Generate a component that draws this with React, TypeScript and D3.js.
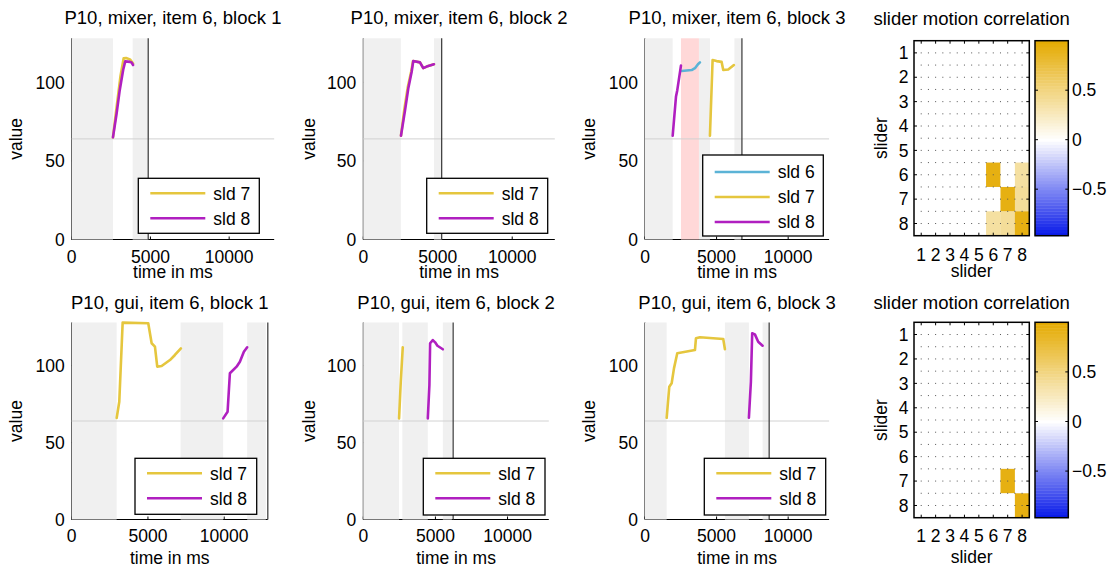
import React from 'react';
import * as d3 from 'd3';

// ---------------- DATA ----------------
const TIME_MAX = 12860;
const VALUE_MAX = 128;
const NEUTRAL_VALUE = 64;
const TIME_TICKS = [0, 5000, 10000];
const VALUE_TICKS = [0, 50, 100];
const SLIDER_IDS = [1, 2, 3, 4, 5, 6, 7, 8];
const CBAR_TICKS = [0.5, 0, -0.5];
const CBAR_MIN = -0.97;
const CBAR_MAX = 1.0;

const PANEL_TITLES = [
  'P10, mixer, item 6, block 1',
  'P10, mixer, item 6, block 2',
  'P10, mixer, item 6, block 3',
  'P10, gui, item 6, block 1',
  'P10, gui, item 6, block 2',
  'P10, gui, item 6, block 3',
];
const CORR_TITLE = 'slider motion correlation';

// series: [time in ms, value]
const MIX1_SLD7: [number, number][] = [[2620, 65], [2850, 84], [3100, 104], [3300, 115.3], [3450, 115.5], [3700, 114.6], [3900, 112]];
const MIX1_SLD8: [number, number][] = [[2620, 65], [2850, 80], [3050, 95], [3270, 108], [3400, 113.3], [3700, 113], [3800, 112.6], [3900, 111]];
const MIX2_SLD7: [number, number][] = [[2530, 66], [2760, 83], [2990, 97], [3220, 107], [3340, 113.5], [3805, 112.7], [4027, 109], [4255, 110], [4745, 111.5]];
const MIX2_SLD8: [number, number][] = [[2530, 66], [2800, 82], [3020, 96], [3248, 106.7], [3356, 113.5], [3805, 112.7], [4027, 109], [4255, 110], [4745, 111.5]];
const MIX3_SLD6: [number, number][] = [[2560, 107.2], [3260, 107.8], [3490, 109], [3700, 111.5], [3838, 112.7]];
const MIX3_SLD7: [number, number][] = [[4536, 66], [4722, 114.2], [5000, 113.5], [5350, 113], [5466, 107.8], [5815, 108.2], [6211, 111]];
const MIX3_SLD8: [number, number][] = [[1933, 66], [2163, 90.8], [2255, 95], [2512, 110.6]];
const GUI1_SLD7: [number, number][] = [[2949, 66], [3120, 76.5], [3342, 127.9], [5020, 127.5], [5243, 114.5], [5459, 112.3], [5610, 99.3], [5898, 99.7], [6442, 103.6], [6769, 106.9], [7162, 111.2]];
const GUI1_SLD8: [number, number][] = [[9935, 65.7], [10223, 70], [10374, 95], [10813, 99.3], [11029, 102.5], [11291, 109], [11508, 111.9]];
const GUI2_SLD7: [number, number][] = [[2479, 65.7], [2597, 89.5], [2736, 111.9]];
const GUI2_SLD8: [number, number][] = [[4472, 65.7], [4583, 87.4], [4632, 114.5], [4819, 116.6], [4979, 115.1], [5139, 112.9], [5514, 110.6]];
const GUI3_SLD7: [number, number][] = [[1514, 66.1], [1696, 86.3], [1863, 88.5], [2024, 98.2], [2254, 108], [3489, 110.1], [3559, 117.7], [3838, 118.4], [5466, 117.3], [5583, 110.6]];
const GUI3_SLD8: [number, number][] = [[7258, 66.1], [7397, 89.5], [7488, 121], [7676, 120.3], [7907, 115.5], [8213, 112.9]];

// idle (grey) intervals, overlap (pink) intervals, end markers, in ms
const MIX1_IDLE = [[0, 2620], [3870, 4860]];
const MIX2_IDLE = [[0, 2520], [4745, 5262]];
const MIX3_IDLE = [[0, 1933], [3768, 4536], [6245, 6700]];
const GUI1_IDLE = [[0, 2949], [7143, 9934], [11508, 12730]];
const GUI2_IDLE = [[0, 2479], [2708, 4472], [5514, 6139]];
const GUI3_IDLE = [[0, 1514], [5583, 7258], [8213, 8653]];
const MIX3_OVERLAP = [[2512, 3768]];
const BLOCK_ENDS = [4860, 5262, 6770, 12860, 6229, 8674];

// correlation matrices (row = slider, col = slider)
const CORR_MIXER = [
  [0, 0, 0, 0, 0, 0, 0, 0],
  [0, 0, 0, 0, 0, 0, 0, 0],
  [0, 0, 0, 0, 0, 0, 0, 0],
  [0, 0, 0, 0, 0, 0, 0, 0],
  [0, 0, 0, 0, 0, 0, 0, 0],
  [0, 0, 0, 0, 0, 0.93, 0, 0.37],
  [0, 0, 0, 0, 0, 0, 0.93, 0.4],
  [0, 0, 0, 0, 0, 0.37, 0.4, 0.93],
];
const CORR_GUI = [
  [0, 0, 0, 0, 0, 0, 0, 0],
  [0, 0, 0, 0, 0, 0, 0, 0],
  [0, 0, 0, 0, 0, 0, 0, 0],
  [0, 0, 0, 0, 0, 0, 0, 0],
  [0, 0, 0, 0, 0, 0, 0, 0],
  [0, 0, 0, 0, 0, 0, 0, 0],
  [0, 0, 0, 0, 0, 0, 0.93, 0],
  [0, 0, 0, 0, 0, 0, 0, 0.93],
];

// ---------------- STYLE / LAYOUT ----------------
const FONT = '"Liberation Sans", Arial, Helvetica, sans-serif';
const COLORS: Record<number, string> = { 6: '#5bb3d6', 7: '#e5c63e', 8: '#b01fc0' };
const IDLE_FILL = '#f0f0f0';
const OVERLAP_FILL = '#ffd8d8';

type Series = { id: number; pts: [number, number][] };
const PANEL_SERIES: Series[][] = [
  [{ id: 7, pts: MIX1_SLD7 }, { id: 8, pts: MIX1_SLD8 }],
  [{ id: 7, pts: MIX2_SLD7 }, { id: 8, pts: MIX2_SLD8 }],
  [{ id: 6, pts: MIX3_SLD6 }, { id: 7, pts: MIX3_SLD7 }, { id: 8, pts: MIX3_SLD8 }],
  [{ id: 7, pts: GUI1_SLD7 }, { id: 8, pts: GUI1_SLD8 }],
  [{ id: 7, pts: GUI2_SLD7 }, { id: 8, pts: GUI2_SLD8 }],
  [{ id: 7, pts: GUI3_SLD7 }, { id: 8, pts: GUI3_SLD8 }],
];
const PANEL_IDLE = [MIX1_IDLE, MIX2_IDLE, MIX3_IDLE, GUI1_IDLE, GUI2_IDLE, GUI3_IDLE];
const PANEL_OVERLAP = [[], [], MIX3_OVERLAP, [], [], []];

const PANEL_BOX = [
  { x0: 71.7, x1: 274.2, y0: 38.3, y1: 239.5 },
  { x0: 363.3, x1: 554.8, y0: 38.3, y1: 239.5 },
  { x0: 645, x1: 829.1, y0: 38.3, y1: 239.5 },
  { x0: 71.7, x1: 267.8, y0: 322.5, y1: 519.5 },
  { x0: 363.3, x1: 548.8, y0: 322.5, y1: 519.5 },
  { x0: 645, x1: 829.1, y0: 322.5, y1: 519.5 },
];
const LEGEND_BOX = [
  { x: 138.3, y: 178.3, w: 121, h: 55, first: 15 },
  { x: 426.7, y: 178.3, w: 121, h: 55, first: 15 },
  { x: 702.7, y: 155, w: 120.6, h: 81, first: 17 },
  { x: 135, y: 458.3, w: 121.7, h: 56, first: 15 },
  { x: 423.3, y: 458.3, w: 121.7, h: 56.7, first: 15 },
  { x: 704.3, y: 458.3, w: 121.4, h: 56.7, first: 15 },
];
const ROW_TEXT = [
  { title: 24, tick: 262.5, xlabel: 278 },
  { title: 309, tick: 542, xlabel: 564 },
];
const YLABEL_X = [21.7, 315, 595];

const HEAT_BOX = [
  { x0: 914, x1: 1029.3, y0: 40.7, y1: 235.7, title: 24.5, tick: 260.5, xlabel: 276.5 },
  { x0: 914, x1: 1029.3, y0: 322.3, y1: 517.7, title: 309, tick: 542, xlabel: 563 },
];
const CBAR_X0 = 1035;
const CBAR_X1 = 1068.3;

const GOLD = d3.rgb(228, 170, 0);
const BLUE = d3.rgb(0, 18, 232);
function corrColor(v: number): string {
  if (v >= 0) return d3.interpolateRgb('#ffffff', GOLD.toString())(Math.min(1, v));
  return d3.interpolateRgb('#ffffff', BLUE.toString())(Math.min(1, -v));
}

function TimePanel({ idx }: { idx: number }) {
  const b = PANEL_BOX[idx];
  const row = idx < 3 ? 0 : 1;
  const col = idx % 3;
  const rt = ROW_TEXT[row];
  const x = d3.scaleLinear().domain([0, TIME_MAX]).range([b.x0, b.x1]);
  const y = d3.scaleLinear().domain([0, VALUE_MAX]).range([b.y1, b.y0]);
  const line = d3.line<[number, number]>().x((d) => x(d[0])).y((d) => y(d[1]));
  const lg = LEGEND_BOX[idx];
  const series = PANEL_SERIES[idx];
  const cx = (b.x0 + b.x1) / 2;
  const cy = (b.y0 + b.y1) / 2;
  return (
    <g>
      {/* axes under patches */}
      <line x1={b.x0} x2={b.x1} y1={b.y1} y2={b.y1} stroke="#000" strokeWidth={1} />
      <line x1={b.x0} x2={b.x0} y1={b.y0} y2={b.y1} stroke="#000" strokeWidth={1} />
      {TIME_TICKS.map((t) => (
        <line key={'xt' + t} x1={x(t)} x2={x(t)} y1={b.y1} y2={b.y1 - 3} stroke="#000" strokeWidth={1} />
      ))}
      {VALUE_TICKS.map((v) => (
        <line key={'yt' + v} x1={b.x0} x2={b.x0 + 3} y1={y(v)} y2={y(v)} stroke="#000" strokeWidth={1} />
      ))}
      {PANEL_IDLE[idx].map((iv, i) => (
        <rect key={'idle' + i} x={x(iv[0])} y={b.y0} width={x(iv[1]) - x(iv[0])} height={b.y1 - b.y0} fill={IDLE_FILL} />
      ))}
      {PANEL_OVERLAP[idx].map((iv: number[], i: number) => (
        <rect key={'ov' + i} x={x(iv[0])} y={b.y0} width={x(iv[1]) - x(iv[0])} height={b.y1 - b.y0} fill={OVERLAP_FILL} />
      ))}
      <line x1={b.x0} x2={b.x1} y1={y(NEUTRAL_VALUE)} y2={y(NEUTRAL_VALUE)} stroke="#d2d2d2" strokeWidth={1} />
      {series.map((s) => (
        <path key={'s' + s.id} d={line(s.pts) || ''} fill="none" stroke={COLORS[s.id]} strokeWidth={2.6} strokeLinejoin="round" strokeLinecap="round" />
      ))}
      <line x1={x(BLOCK_ENDS[idx])} x2={x(BLOCK_ENDS[idx])} y1={b.y0} y2={b.y1} stroke="#444" strokeWidth={1.3} />
      {/* tick labels */}
      {TIME_TICKS.map((t) => (
        <text key={'xl' + t} x={x(t)} y={rt.tick} textAnchor="middle" fontSize={17.5}>{t}</text>
      ))}
      {VALUE_TICKS.map((v) => (
        <text key={'yl' + v} x={b.x0 - 7} y={y(v) + 6.2} textAnchor="end" fontSize={17.5}>{v}</text>
      ))}
      <text x={cx} y={rt.title} textAnchor="middle" fontSize={18.5}>{PANEL_TITLES[idx]}</text>
      <text x={cx} y={rt.xlabel} textAnchor="middle" fontSize={17.5}>time in ms</text>
      <text transform={`translate(${YLABEL_X[col]},${cy}) rotate(-90)`} textAnchor="middle" fontSize={17.5}>value</text>
      {/* legend */}
      <rect x={lg.x} y={lg.y} width={lg.w} height={lg.h} fill="#fff" stroke="#000" strokeWidth={1.3} />
      {series.map((s, i) => {
        const ly = lg.y + lg.first + i * 25;
        return (
          <g key={'lg' + s.id}>
            <line x1={lg.x + 12} x2={lg.x + 67} y1={ly} y2={ly} stroke={COLORS[s.id]} strokeWidth={2.6} />
            <text x={lg.x + 75} y={ly + 6.3} fontSize={17.5}>{'sld ' + s.id}</text>
          </g>
        );
      })}
    </g>
  );
}

function CorrPanel({ idx }: { idx: number }) {
  const hb = HEAT_BOX[idx];
  const matrix = idx === 0 ? CORR_MIXER : CORR_GUI;
  const xb = d3.scaleBand<number>().domain(SLIDER_IDS).range([hb.x0, hb.x1]);
  const yb = d3.scaleBand<number>().domain(SLIDER_IDS).range([hb.y0, hb.y1]);
  const cs = d3.scaleLinear().domain([CBAR_MIN, CBAR_MAX]).range([hb.y1, hb.y0]);
  const bands = d3.range(64).map((i) => CBAR_MIN + ((i + 0.5) / 64) * (CBAR_MAX - CBAR_MIN));
  const bandH = (hb.y1 - hb.y0) / 64;
  const cw = xb.bandwidth();
  const ch = yb.bandwidth();
  const dotRowsY = d3.range(17).map((i) => hb.y0 + (i * ch) / 2).filter((v) => v > hb.y0 + 1 && v < hb.y1 - 1);
  const dotColsX = d3.range(17).map((i) => hb.x0 + (i * cw) / 2).filter((v) => v > hb.x0 + 1 && v < hb.x1 - 1);
  return (
    <g>
      {SLIDER_IDS.map((r, ri) =>
        SLIDER_IDS.map((c, ci) => (
          <rect key={`c${r}-${c}`} x={xb(c)} y={yb(r)} width={cw + 0.3} height={ch + 0.3} fill={corrColor(matrix[ri][ci])} />
        ))
      )}
      {dotRowsY.map((yy) =>
        dotColsX.map((xx) => <rect key={`d${yy}-${xx}`} x={xx - 0.5} y={yy - 0.5} width={1} height={1} fill="#555" />)
      )}
      {SLIDER_IDS.map((s) => (
        <g key={'tk' + s}>
          <line x1={hb.x0} x2={hb.x0 + 3} y1={(yb(s) as number) + ch / 2} y2={(yb(s) as number) + ch / 2} stroke="#000" />
          <line x1={hb.x1} x2={hb.x1 - 3} y1={(yb(s) as number) + ch / 2} y2={(yb(s) as number) + ch / 2} stroke="#000" />
          <line x1={(xb(s) as number) + cw / 2} x2={(xb(s) as number) + cw / 2} y1={hb.y1} y2={hb.y1 - 3} stroke="#000" />
          <line x1={(xb(s) as number) + cw / 2} x2={(xb(s) as number) + cw / 2} y1={hb.y0} y2={hb.y0 + 3} stroke="#000" />
          <text x={hb.x0 - 5.5} y={(yb(s) as number) + ch / 2 + 6.2} textAnchor="end" fontSize={17.5}>{s}</text>
          <text x={(xb(s) as number) + cw / 2} y={hb.tick} textAnchor="middle" fontSize={17.5}>{s}</text>
        </g>
      ))}
      <rect x={hb.x0} y={hb.y0} width={hb.x1 - hb.x0} height={hb.y1 - hb.y0} fill="none" stroke="#000" strokeWidth={1.5} />
      <text x={(hb.x0 + hb.x1) / 2} y={hb.title} textAnchor="middle" fontSize={18.5}>{CORR_TITLE}</text>
      <text x={(hb.x0 + hb.x1) / 2} y={hb.xlabel} textAnchor="middle" fontSize={17.5}>slider</text>
      <text transform={`translate(887,${(hb.y0 + hb.y1) / 2}) rotate(-90)`} textAnchor="middle" fontSize={17.5}>slider</text>
      {/* colorbar */}
      {bands.map((v, i) => (
        <rect key={'cb' + i} x={CBAR_X0} y={hb.y1 - (i + 1) * bandH} width={CBAR_X1 - CBAR_X0} height={bandH + 0.4} fill={corrColor(v)} />
      ))}
      <rect x={CBAR_X0} y={hb.y0} width={CBAR_X1 - CBAR_X0} height={hb.y1 - hb.y0} fill="none" stroke="#000" strokeWidth={1.5} />
      {CBAR_TICKS.map((t) => (
        <g key={'ct' + t}>
          <line x1={CBAR_X1} x2={CBAR_X1 - 3} y1={cs(t)} y2={cs(t)} stroke="#000" />
          <line x1={CBAR_X0} x2={CBAR_X0 + 3} y1={cs(t)} y2={cs(t)} stroke="#000" />
          <text x={1072} y={cs(t) + 6.2} fontSize={17.5}>{t < 0 ? '\u2212' + Math.abs(t) : String(t)}</text>
        </g>
      ))}
    </g>
  );
}

export default function App() {
  return (
    <svg
      width={1114}
      height={569}
      style={{ position: 'absolute', left: 0, top: 0, background: '#fff' }}
      fontFamily={FONT}
    >
      <rect x={0} y={0} width={1114} height={569} fill="#fff" />
      {[0, 1, 2, 3, 4, 5].map((i) => (
        <TimePanel key={i} idx={i} />
      ))}
      <CorrPanel idx={0} />
      <CorrPanel idx={1} />
    </svg>
  );
}
